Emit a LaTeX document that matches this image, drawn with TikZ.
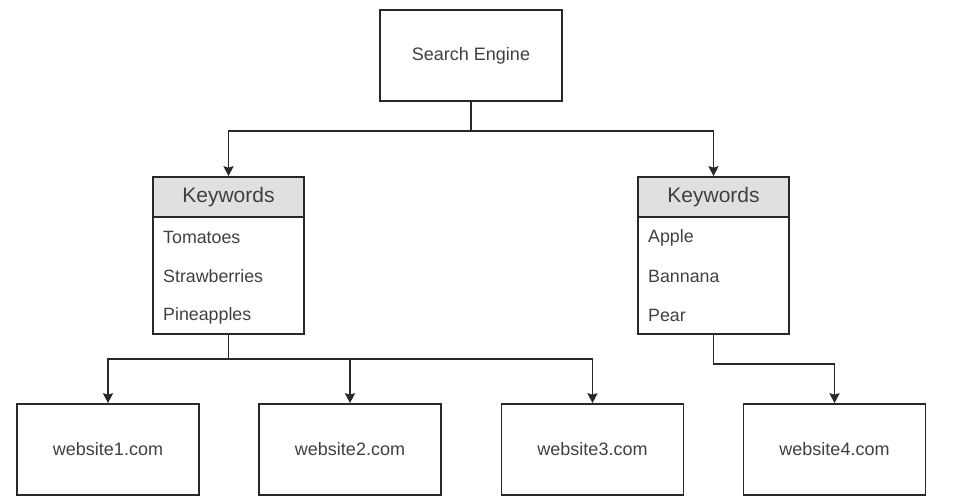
\documentclass[tikz,border=0pt]{standalone}
\usepackage{fontspec}
\setmainfont{Liberation Sans}
\usepackage{tikz}
\usetikzlibrary{arrows.meta,positioning}
\definecolor{linegray}{RGB}{40,40,40}
\definecolor{textgray}{RGB}{64,64,64}
\definecolor{headgray}{RGB}{224,224,224}
\tikzset{every picture/.style={>={Stealth[length=10pt,width=10pt,inset=1.5pt]}},
  box/.style={draw=linegray,line width=1.6pt,minimum width=182pt,minimum height=91pt,text=textgray,font=\fontsize{18}{20}\selectfont},
  head/.style={draw=linegray,line width=1.6pt,fill=headgray,minimum width=151pt,minimum height=40pt,text=textgray,font=\fontsize{21}{23}\selectfont},
  body/.style={draw=linegray,line width=1.6pt,minimum width=151pt,minimum height=117pt},
  item/.style={anchor=west,text=textgray,inner sep=0pt,font=\fontsize{17.8}{19}\selectfont},
  wire/.style={draw=linegray,line width=1.6pt}}

\begin{document}
\begin{tikzpicture}[x=1pt,y=-1pt]
  \useasboundingbox (0,0) rectangle (958,502);
  \node (se) [box] at (471,55.5) {Search Engine};
  \node (kwlh) [head] at (228.5,197) {Keywords};
  \node (kwlb) [body] at (228.5,275.5) {};
  \node (kwrh) [head] at (713.5,197) {Keywords};
  \node (kwrb) [body] at (713.5,275.5) {};
  \node (tom) [item] at (163,237.5) {Tomatoes};
  \node (str) [item] at (163,276.5) {Strawberries};
  \node (pin) [item] at (163,315.5) {Pineapples};
  \node (app) [item] at (648,237.5) {Apple};
  \node (ban) [item] at (648,276.5) {Bannana};
  \node (pea) [item] at (648,315.5) {Pear};
  \node (w1) [box] at (108,449.5) {website1.com};
  \node (w2) [box] at (350,449.5) {website2.com};
  \node (w3) [box] at (592.5,449.5) {website3.com};
  \node (w4) [box] at (834.5,449.5) {website4.com};
  \coordinate (j1) at (471,131);
  \coordinate (j2) at (228.5,359);
  \coordinate (j3) at (713.5,364);
  \draw [wire,->] (se.south) -- (j1) -| (kwlh.north);
  \draw [wire,->] (j1) -| (kwrh.north);
  \draw [wire] (kwlb.south) -- (j2);
  \draw [wire,->] (j2) -| (w1.north);
  \draw [wire,->] (j2) -| (w2.north);
  \draw [wire,->] (j2) -| (w3.north);
  \draw [wire,->] (kwrb.south) -- (j3) -| (w4.north);
\end{tikzpicture}
\end{document}
